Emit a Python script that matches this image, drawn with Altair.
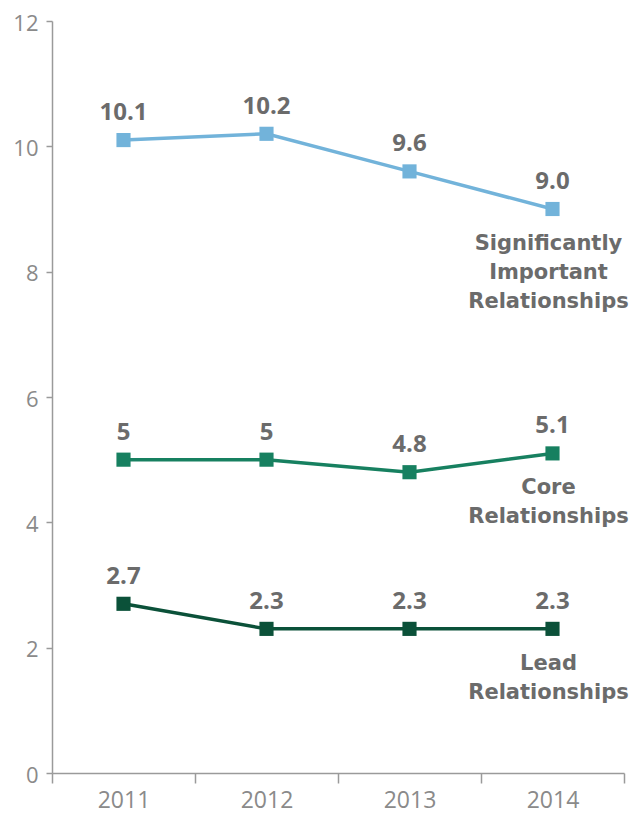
import altair as alt
import pandas as pd

years = ["2011", "2012", "2013", "2014"]
significant = [10.1, 10.2, 9.6, 9.0]
core = [5.0, 5.0, 4.8, 5.1]
lead = [2.7, 2.3, 2.3, 2.3]
value_labels = {
    "Significant": ["10.1", "10.2", "9.6", "9.0"],
    "Core": ["5", "5", "4.8", "5.1"],
    "Lead": ["2.7", "2.3", "2.3", "2.3"],
}
series_names = {
    "Significant": "Significantly\nImportant\nRelationships",
    "Core": "Core\nRelationships",
    "Lead": "Lead\nRelationships",
}
series_order = ["Significant", "Core", "Lead"]
series_colors = ["#72b3da", "#178060", "#0b5139"]

rows = []
for key, vals in zip(series_order, [significant, core, lead]):
    for i, (yr, v) in enumerate(zip(years, vals)):
        rows.append({
            "year": yr,
            "value": v,
            "series": key,
            "label": value_labels[key][i],
            "name": series_names[key] if yr == years[-1] else "",
        })
df = pd.DataFrame(rows)

color = alt.Color("series:N", scale=alt.Scale(domain=series_order, range=series_colors), legend=None)

x = alt.X("year:O", scale=alt.Scale(type="band", paddingInner=0, paddingOuter=0),
          axis=alt.Axis(title=None, labelAngle=0, tickBand="extent", tickSize=10,
                        labelPadding=6, labelFont="Open Sans", labelFontSize=23,
                        labelColor="#8a8a8a", domainColor="#9a9a9a", tickColor="#9a9a9a",
                        domainWidth=1.5, tickWidth=1.5))
y = alt.Y("value:Q", scale=alt.Scale(domain=[0, 12], nice=False),
          axis=alt.Axis(title=None, values=[0, 2, 4, 6, 8, 10, 12], grid=False, tickSize=6,
                        labelPadding=8, labelOffset=2, labelFont="Open Sans", labelFontSize=22,
                        labelColor="#8a8a8a", domainColor="#9a9a9a", tickColor="#9a9a9a",
                        domainWidth=1.5, tickWidth=1.5))

base = alt.Chart(df)

lines = base.mark_line(strokeWidth=3.5).encode(x=x, y=y, color=color, detail="series:N")
points = base.mark_point(shape="square", filled=True, size=200, opacity=1).encode(x=x, y=y, color=color)
vals = base.mark_text(font="Open Sans", fontWeight="bold", fontSize=24, color="#6b6b6b",
                      baseline="bottom", dy=-15).encode(x=x, y=y, text="label:N")
names = base.transform_filter(alt.datum.name != "").mark_text(
    font="DejaVu Sans", fontWeight="bold", fontSize=21, color="#6b6b6b",
    baseline="top", dy=24, dx=-4, lineBreak="\n", lineHeight=29).encode(x=x, y=y, text="name:N")

chart = alt.layer(lines, points, vals, names).properties(
    width=572, height=752,
    autosize=alt.AutoSizeParams(type="none"),
    padding={"left": 44, "top": 13, "right": 5, "bottom": 42},
).configure_view(stroke=None)

chart.save("out.html", embed_options={"renderer": "svg", "actions": False})
